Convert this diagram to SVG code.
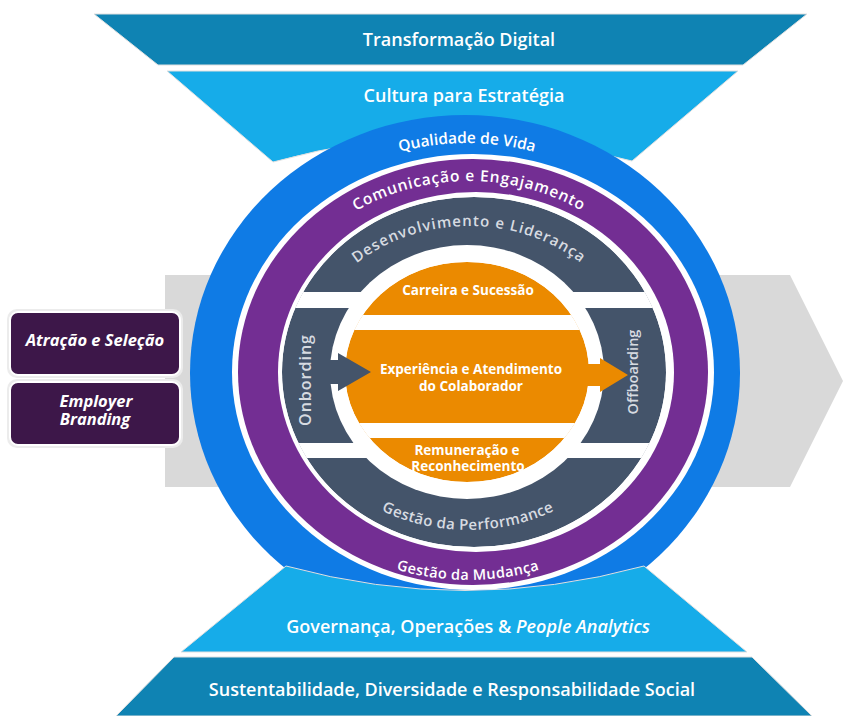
<svg xmlns="http://www.w3.org/2000/svg" width="843" height="716" viewBox="0 0 843 716">
<defs>
<style>
.band{font-family:"Open Sans","Noto Sans","Liberation Sans",sans-serif;font-weight:600;font-size:18px;fill:#fff;text-anchor:middle}
.arc{font-family:"Open Sans","Noto Sans","Liberation Sans",sans-serif;font-weight:600;fill:#fff}
.arcg{font-family:"Open Sans","Noto Sans","Liberation Sans",sans-serif;font-weight:600;fill:#d7dbe1}
.org{font-family:"Open Sans","Noto Sans","Liberation Sans",sans-serif;font-weight:700;font-size:13.5px;fill:#fff;text-anchor:middle}
.box{font-family:"Open Sans","Noto Sans","Liberation Sans",sans-serif;font-weight:700;font-style:italic;font-size:16.5px;fill:#fff;text-anchor:middle}
.side{font-family:"Open Sans","Noto Sans","Liberation Sans",sans-serif;font-weight:600;fill:#d7dbe1;text-anchor:middle}
.slate{fill:#44546a}
.orange{fill:#eb8a00}
.gap{fill:#fff}
</style>
<clipPath id="slateClip"><ellipse cx="474" cy="372" rx="192" ry="175"/></clipPath>
<clipPath id="orangeClip"><ellipse cx="467" cy="372" rx="122" ry="110"/></clipPath>
<path id="pQual" d="M222,372 A245,229 0 0 1 712,372"/>
<path id="pCom" d="M259,372 A210,191 0 0 1 679,372"/>
<path id="pDes" d="M301,372 A168,146 0 0 1 637,372"/>
<path id="pPerf" d="M288,372 A180,158 0 0 0 648,372"/>
<path id="pMud" d="M238,372 A230,208 0 0 0 698,372"/>
</defs>
<rect x="0" y="0" width="843" height="716" fill="#fff"/>

<g id="flow-arrow">
<polygon points="165,275 790,275 843,381 790,487 165,487" fill="#d9d9d9"/>
</g>

<g id="transformacao-digital">
<polygon points="94,14 807,14 743,65 158,65" fill="#0f83b3" stroke="#e0e0e0" stroke-width="1"/>
<text class="band" x="459" y="46">Transformação Digital</text>
</g>

<g id="cultura-estrategia">
<path d="M167,71 L738,71 L632,161 Q452,112 273,162 Z" fill="#16ace9" stroke="#e0e0e0" stroke-width="1"/>
<text class="band" x="464" y="102">Cultura para Estratégia</text>
</g>

<g id="sustentabilidade">
<polygon points="174,657 752,657 812,716 116,716" fill="#0f83b3" stroke="#e0e0e0" stroke-width="1"/>
<text class="band" x="452" y="696">Sustentabilidade, Diversidade e Responsabilidade Social</text>
</g>

<g id="qualidade-de-vida">
<ellipse cx="465" cy="373" rx="275" ry="258" fill="#0f7be5"/>
</g>

<g id="governanca">
<path d="M286,566 Q465,615 644,566 L747,652 L181,652 Z" fill="#16ace9" stroke="#e0e0e0" stroke-width="1"/>
<text class="band" x="468" y="633">Governança, Operações &amp; <tspan font-style="italic">People Analytics</tspan></text>
</g>

<g id="comunicacao-engajamento">
<ellipse cx="473" cy="372" rx="241" ry="218" class="gap"/>
<ellipse cx="473" cy="372" rx="235" ry="213" fill="#732e93"/>
<ellipse cx="476" cy="372" rx="198" ry="180" class="gap"/>
</g>

<g id="slate-ring">
<g clip-path="url(#slateClip)">
<ellipse cx="474" cy="372" rx="192" ry="175" class="slate"/>
<rect x="260" y="292" width="440" height="16" class="gap"/>
<rect x="260" y="443" width="440" height="15" class="gap"/>
</g>
<ellipse cx="467" cy="372" rx="137" ry="127" class="gap"/>
</g>

<g id="orange-core">
<g clip-path="url(#orangeClip)">
<ellipse cx="467" cy="372" rx="122" ry="110" class="orange"/>
<rect x="330" y="315" width="280" height="15" class="gap"/>
<rect x="330" y="423" width="280" height="15" class="gap"/>
</g>
</g>

<g id="connectors">
<polygon points="324,360 338,360 338,353 371,372 338,391 338,384 324,384" class="slate"/>
<polygon points="585,364 600,364 600,358 628,375 600,392 600,386 585,386" class="orange"/>
</g>

<g id="arc-labels">
<text class="arc" font-size="15.5"><textPath href="#pQual" startOffset="50%" text-anchor="middle">Qualidade de Vida</textPath></text>
<text class="arc" font-size="15.5" letter-spacing="0.8"><textPath href="#pCom" startOffset="50%" text-anchor="middle">Comunicação e Engajamento</textPath></text>
<text class="arcg" font-size="15" letter-spacing="1"><textPath href="#pDes" startOffset="50%" text-anchor="middle">Desenvolvimento e Liderança</textPath></text>
<text class="arcg" font-size="15" letter-spacing="0.4"><textPath href="#pPerf" startOffset="50%" text-anchor="middle">Gestão da Performance</textPath></text>
<text class="arc" font-size="14.5" letter-spacing="0.4"><textPath href="#pMud" startOffset="50%" text-anchor="middle">Gestão da Mudança</textPath></text>
</g>

<g id="onboarding">
<text class="side" font-size="16" letter-spacing="1" transform="translate(311,380) rotate(-90)">Onbording</text>
</g>
<g id="offboarding">
<text class="side" font-size="14.5" font-weight="500" transform="translate(638,372) rotate(-90)">Offboarding</text>
</g>

<g id="carreira-sucessao">
<text class="org" x="468" y="295">Carreira e Sucessão</text>
</g>
<g id="experiencia-colaborador">
<text class="org" x="471" y="374">Experiência e Atendimento</text>
<text class="org" x="471" y="391">do Colaborador</text>
</g>
<g id="remuneracao-reconhecimento">
<text class="org" x="467" y="455">Remuneração e</text>
<text class="org" x="468" y="471">Reconhecimento</text>
</g>

<g id="atracao-selecao">
<rect x="7" y="309" width="176" height="69" rx="10" fill="#ececec"/>
<rect x="10" y="312" width="170" height="63" rx="8" fill="#3d1749" stroke="#fff" stroke-width="2"/>
<text class="box" x="95" y="346">Atração e Seleção</text>
</g>
<g id="employer-branding">
<rect x="7" y="379" width="176" height="69" rx="10" fill="#ececec"/>
<rect x="10" y="382" width="170" height="63" rx="8" fill="#3d1749" stroke="#fff" stroke-width="2"/>
<text class="box" x="96" y="407">Employer</text>
<text class="box" x="95" y="425">Branding</text>
</g>
</svg>
